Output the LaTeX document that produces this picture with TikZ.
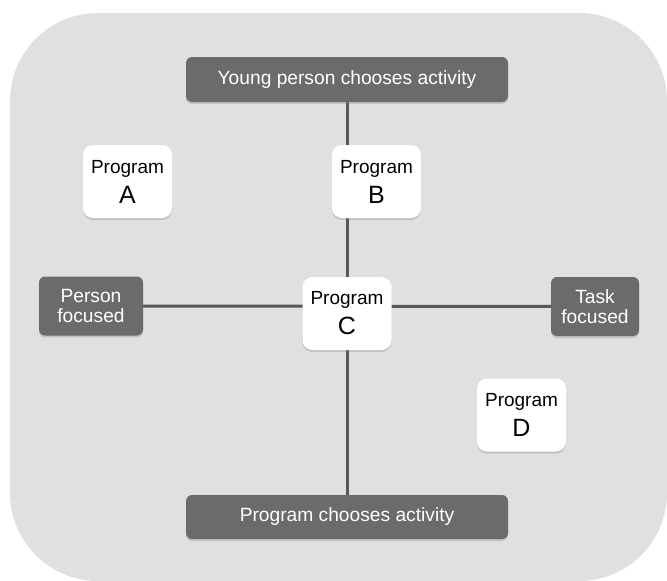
\documentclass[tikz,border=0pt]{standalone}
\usepackage{fontspec}
\setmainfont{Liberation Sans}
\usetikzlibrary{shadows}
\definecolor{backdropgray}{HTML}{E0E0E0}
\definecolor{bargray}{HTML}{6B6B6B}
\definecolor{axisgray}{HTML}{585858}
\pgfdeclarelayer{backdrop}
\pgfdeclarelayer{axes}
\pgfsetlayers{backdrop,axes,main}
\tikzset{
  axisbar/.style={fill=bargray, rounded corners=6pt, text=white, align=center,
    inner sep=0pt, minimum height=45pt, font=\fontsize{19.2}{20}\selectfont,
    drop shadow={shadow xshift=0pt, shadow yshift=-2pt, opacity=0.3}},
  progbox/.style={fill=white, rounded corners=10pt, align=center, inner sep=0pt,
    minimum width=89pt, minimum height=73pt, font=\fontsize{19}{30}\selectfont,
    drop shadow={shadow xshift=0pt, shadow yshift=-2pt, opacity=0.3}},
  axisline/.style={draw=axisgray, line width=3pt}
}
\newcommand{\progtext}[1]{Program\\{\fontsize{25}{30}\selectfont #1}}
\begin{document}
\begin{tikzpicture}[x=1pt,y=-1pt]
\useasboundingbox (0,0) rectangle (667,581);
\begin{pgfonlayer}{backdrop}
 \fill[backdropgray, rounded corners=88pt] (10,13) rectangle (667,581);
\end{pgfonlayer}
\node[axisbar, minimum width=322pt] (young) at (347,79.5) {Young person chooses activity};
\node[axisbar, minimum width=322pt, minimum height=44pt] (progchoose) at (347,517) {Program chooses activity};
\node[axisbar, minimum width=104pt, minimum height=59pt] (person) at (91,306) {Person\\focused};
\node[axisbar, minimum width=88pt, minimum height=59pt] (task) at (595,306.5) {Task\\focused};
\foreach \name/\x/\y in {A/127.5/181.5, B/376.5/181.5, C/347/313.5, D/521.5/415} {
 \node[progbox] (prog\name) at (\x,\y) {\progtext{\name}};
}
\begin{pgfonlayer}{axes}
 \draw[axisline] (young) -- (progchoose);
 \draw[axisline] (person) -- (task);
\end{pgfonlayer}
\end{tikzpicture}
\end{document}
